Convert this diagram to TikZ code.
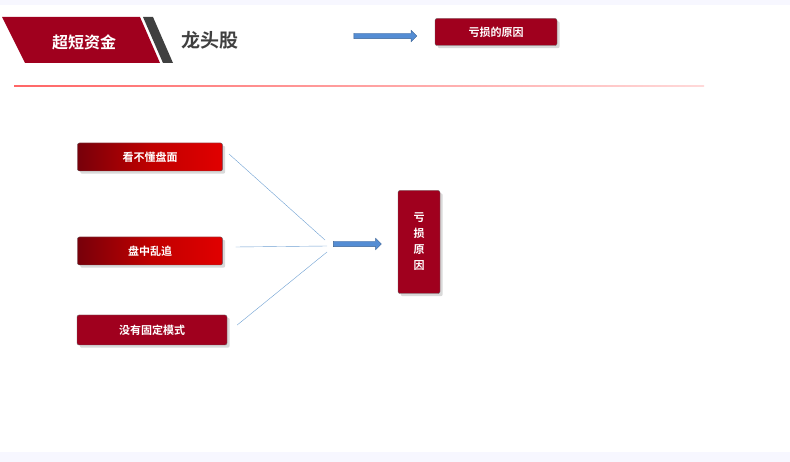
\documentclass[tikz,border=0pt]{standalone}
\usepackage{fontspec}
\setmainfont{Noto Sans CJK SC}[BoldFont={* Bold}]
\usetikzlibrary{shapes.arrows,shadows}
\definecolor{darkred}{RGB}{160,0,30}
\definecolor{deepred}{RGB}{120,0,10}
\definecolor{brightred}{RGB}{225,0,0}
\definecolor{arrowblue}{RGB}{84,141,212}
\definecolor{linblue}{RGB}{110,160,210}
\tikzset{
  redbox/.style={draw=black!60, rounded corners=2pt, fill=darkred, text=white,
    font=\bfseries\fontsize{11}{12}\selectfont, drop shadow={opacity=0.3}},
  gradbox/.style={redbox, left color=deepred, right color=brightred, middle color=brightred!85!black},
  bluearrow/.style={single arrow, fill=arrowblue, draw=arrowblue!70!black, minimum height=#1,
    single arrow head extend=3pt, inner sep=2.5pt},
  feed/.style={linblue, thin}
}
\begin{document}
\begin{tikzpicture}[x=1pt,y=-1pt]
\useasboundingbox (0,0) rectangle (790,462);
\fill[blue!3] (0,0) rectangle (790,5);
\fill[blue!3] (0,452) rectangle (790,462);
% title bar
\fill[darkred] (2,17) -- (140,17) -- (160,63) -- (25,63) -- cycle;
\fill[black!75] (143,17) -- (153,17) -- (173,63) -- (163,63) -- cycle;
\node[text=white, font=\bfseries\fontsize{16}{18}\selectfont] (title) at (84,42) {超短资金};
\node[text=black!75, font=\bfseries\fontsize{19}{20}\selectfont, anchor=west] (sub) at (178,40) {龙头股};
\node[bluearrow=63pt] (top arrow) at (384,36) {};
\node[redbox, minimum width=122pt, minimum height=27pt] (cause) at (496,32) {亏损的原因};
\shade[left color=red!60, right color=red!15] (14,86) rectangle (704,86.8);
% reasons
\node[gradbox, minimum width=145pt, minimum height=28pt] (r1) at (150,157) {看不懂盘面};
\node[gradbox, minimum width=145pt, minimum height=28pt] (r2) at (150,251) {盘中乱追};
\node[redbox, minimum width=150pt, minimum height=30pt] (r3) at (152,330) {没有固定模式};
\coordinate (m1) at (325,240);
\coordinate (m2) at (327,246);
\coordinate (m3) at (327,252);
\draw[feed] (229,154) -- (m1);
\draw[feed] (r2.east) ++(13,-4) -- (m2);
\draw[feed] (r3.east) ++(10,-5) -- (m3);
\node[bluearrow=48pt] (mid arrow) at (356,244) {};
\node[redbox, minimum width=42pt, minimum height=103pt, align=center,
  font=\bfseries\fontsize{11}{16}\selectfont] (loss) at (419,242) {亏\\损\\原\\因};
\end{tikzpicture}
\end{document}
